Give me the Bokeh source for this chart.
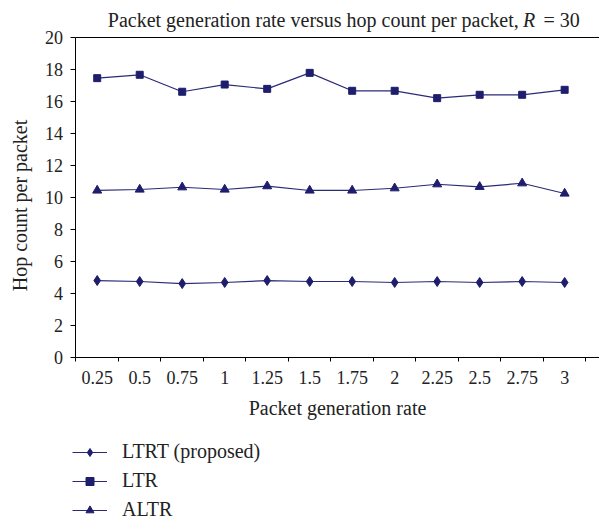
import math
import numpy as np
from bokeh.plotting import figure
from bokeh.models import (Range1d, FixedTicker, Legend, LegendItem, Label, LinearAxis)
from bokeh.embed import file_html
from bokeh.resources import INLINE

rates = ["0.25", "0.5", "0.75", "1", "1.25", "1.5", "1.75", "2", "2.25", "2.5", "2.75", "3"]
ltrt = [4.83, 4.77, 4.64, 4.71, 4.83, 4.77, 4.77, 4.71, 4.77, 4.71, 4.77, 4.71]
ltr = [17.48, 17.69, 16.63, 17.08, 16.81, 17.81, 16.69, 16.69, 16.23, 16.44, 16.44, 16.75]
altr = [10.46, 10.52, 10.66, 10.52, 10.73, 10.46, 10.46, 10.6, 10.85, 10.69, 10.91, 10.27]
y_ticks = [0, 2, 4, 6, 8, 10, 12, 14, 16, 18, 20]

FONT = "Liberation Serif"
LINE = "#2A2A78"
MARK = "#1E1E6C"
TXT = "#222222"
TICK_FS = "18px"
TEXT_FS = "20px"

n = len(rates)
xc = np.arange(n) + 0.5          # category centres
xb = np.arange(n + 1).tolist()   # category boundaries
X_END = 12.32
Y_TOP = 20

p = figure(width=599, height=522, output_backend="svg", toolbar_location=None,
           x_range=Range1d(-1.776, X_END), y_range=Range1d(-10.29, 22.02),
           min_border_left=0, min_border_right=0, min_border_top=5,
           min_border_bottom=0)
p.outline_line_color = None
p.grid.grid_line_color = None
p.background_fill_color = "white"
p.border_fill_color = "white"

# x axis (drawn at y = 0 inside the frame)
xa = p.xaxis[0]
xa.fixed_location = 0
xa.bounds = (0, X_END)
xa.ticker = FixedTicker(ticks=xc.tolist(), minor_ticks=xb)
xa.major_label_overrides = {float(c): r for c, r in zip(xc, rates)}
xa.major_tick_line_color = None
xa.major_tick_out = 0
xa.major_tick_in = 0
xa.minor_tick_line_color = "black"
xa.minor_tick_in = 0
xa.minor_tick_out = 4
xa.axis_line_color = "black"
xa.major_label_standoff = 9
xa.major_label_text_font = FONT
xa.major_label_text_font_size = TICK_FS
xa.major_label_text_color = TXT
xa.axis_label = "Packet generation rate"
xa.axis_label_text_font = FONT
xa.axis_label_text_font_size = TEXT_FS
xa.axis_label_text_font_style = "normal"
xa.axis_label_text_color = TXT
xa.axis_label_standoff = 10

# y axis (drawn at x = 0 inside the frame)
ya = p.yaxis[0]
ya.fixed_location = 0
ya.ticker = FixedTicker(ticks=y_ticks, minor_ticks=[])
ya.bounds = (0, Y_TOP)
ya.major_tick_out = 5
ya.major_tick_in = 0
ya.major_tick_line_color = "black"
ya.minor_tick_line_color = None
ya.axis_line_color = "black"
ya.major_label_standoff = 8
ya.major_label_text_font = FONT
ya.major_label_text_font_size = TICK_FS
ya.major_label_text_color = TXT

# y axis title
p.add_layout(Label(x=-1.31, y=9.52, text="Hop count per packet", angle=math.pi / 2,
                   text_align="center", text_baseline="middle", text_font=FONT,
                   text_font_size=TEXT_FS, text_color=TXT))

# top frame line
top = LinearAxis(fixed_location=Y_TOP, bounds=(0, X_END), ticker=FixedTicker(ticks=[]),
                 major_tick_line_color=None, minor_tick_line_color=None,
                 major_label_text_font_size="0px", axis_line_color="black")
p.add_layout(top, "above")

# series
l1 = p.line(xc, ltrt, line_color=LINE, line_width=1.2)
m1 = p.scatter(xc, ltrt, marker="diamond", size=10, fill_color=MARK, line_color=MARK)
l2 = p.line(xc, ltr, line_color=LINE, line_width=1.2)
m2 = p.scatter(xc, ltr, marker="square", size=7, fill_color=MARK, line_color=MARK)
l3 = p.line(xc, altr, line_color=LINE, line_width=1.2)
m3 = p.scatter(xc, altr, marker="triangle", size=9, fill_color=MARK, line_color=MARK)

legend = Legend(items=[
    LegendItem(label="LTRT (proposed)", renderers=[l1, m1]),
    LegendItem(label="LTR", renderers=[l2, m2]),
    LegendItem(label="ALTR", renderers=[l3, m3]),
], location=(72, 1), orientation="vertical")
legend.border_line_color = None
legend.background_fill_alpha = 0
legend.padding = 0
legend.margin = 0
legend.spacing = 6
legend.label_height = 20
legend.glyph_height = 20
legend.glyph_width = 35
legend.label_standoff = 15
legend.label_text_font = FONT
legend.label_text_font_size = TEXT_FS
legend.label_text_color = TXT
p.add_layout(legend)

# title (main text + italic R + "= 30")
title_y = 21.11
p.add_layout(Label(x=10.42, y=title_y, text="Packet generation rate versus hop count per packet,",
                   text_align="right", text_baseline="alphabetic", text_font=FONT,
                   text_font_size=TEXT_FS, text_color=TXT))
p.add_layout(Label(x=10.52, y=title_y, text="R", text_font_style="italic",
                   text_align="left", text_baseline="alphabetic", text_font=FONT,
                   text_font_size=TEXT_FS, text_color=TXT))
p.add_layout(Label(x=11.0, y=title_y, text="= 30",
                   text_align="left", text_baseline="alphabetic", text_font=FONT,
                   text_font_size=TEXT_FS, text_color=TXT))

open("out.html", "w").write(file_html(p, INLINE))
